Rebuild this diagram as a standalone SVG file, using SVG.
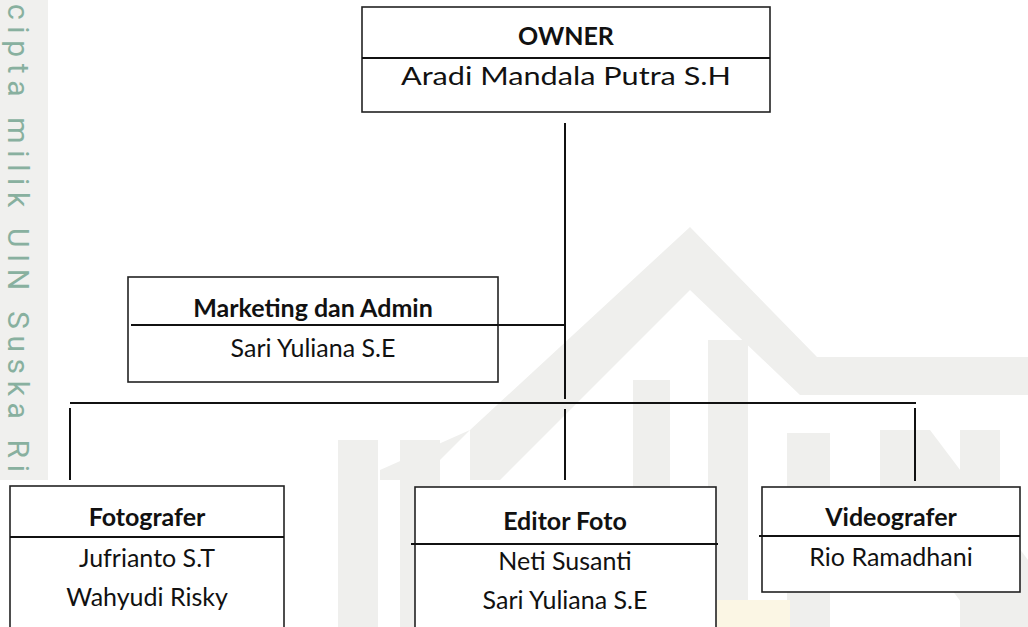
<svg xmlns="http://www.w3.org/2000/svg" width="1028" height="627" viewBox="0 0 1028 627">
  <style>
    .box { fill: #ffffff; stroke: #222222; stroke-width: 1.6; }
    .div { stroke: #111111; stroke-width: 2; }
    .conn { stroke: #111111; stroke-width: 2; fill: none; }
    .t { font-family: Lato, "Liberation Sans", sans-serif; font-size: 25px; fill: #111111; text-anchor: middle; }
    .b { font-weight: bold; }
    .wm { fill: #efefed; }
  </style>
  <rect x="0" y="0" width="1028" height="627" fill="#ffffff"/>
  <!-- faint background watermark logo -->
  <g id="watermark-logo">
    <polygon class="wm" points="690,227 817,357 1028,357 1028,395 800,395 690,290 560,420 500,480 470,480 470,430"/>
    <polygon class="wm" points="470,430 420,480 380,480 380,470"/>
    <rect class="wm" x="338" y="440" width="40" height="187"/>
    <rect class="wm" x="400" y="440" width="40" height="187"/>
    <rect class="wm" x="633" y="380" width="37" height="247"/>
    <rect class="wm" x="708" y="340" width="40" height="287"/>
    <rect class="wm" x="787" y="433" width="43" height="194"/>
    <polygon class="wm" points="880,430 930,430 1028,560 1028,627 980,627 880,495"/>
    <rect class="wm" x="960" y="430" width="40" height="197"/>
    <rect x="700" y="600" width="90" height="27" fill="#fbf6e4"/>
  </g>
  <!-- left margin watermark strip -->
  <g id="watermark-strip">
    <rect x="0" y="0" width="48" height="480" fill="#f0f0ee"/>
    <text transform="translate(8,4) rotate(90)" x="0" y="0" font-family="Roboto, 'Liberation Sans', sans-serif" font-size="30" fill="#88b09f" textLength="468" lengthAdjust="spacing">cipta milik UIN Suska Ri</text>
  </g>
  <g id="connectors">
    <line class="conn" x1="565" y1="123" x2="565" y2="399"/>
    <line class="conn" x1="498" y1="325" x2="565" y2="325"/>
    <line class="conn" x1="70" y1="403" x2="916" y2="403"/>
    <line class="conn" x1="70" y1="408" x2="70" y2="480"/>
    <line class="conn" x1="565" y1="409" x2="565" y2="480"/>
    <line class="conn" x1="915" y1="408" x2="915" y2="481"/>
  </g>
  <g id="owner">
    <rect class="box" x="362" y="7" width="408" height="105"/>
    <line class="div" x1="362" y1="58" x2="770" y2="58"/>
    <text class="t b" x="566" y="45">OWNER</text>
    <text class="t" x="566" y="85" font-size="28" textLength="330" lengthAdjust="spacingAndGlyphs">Aradi Mandala Putra S.H</text>
  </g>
  <g id="marketing">
    <rect class="box" x="128" y="277" width="370" height="105"/>
    <line class="div" x1="131" y1="325" x2="498" y2="325"/>
    <text class="t b" x="313" y="317" font-size="27">Marketing dan Admin</text>
    <text class="t" x="313" y="357" font-size="26">Sari Yuliana S.E</text>
  </g>
  <g id="fotografer">
    <rect class="box" x="10" y="486" width="274" height="160"/>
    <line class="div" x1="10" y1="537" x2="284" y2="537"/>
    <text class="t b" x="147" y="526">Fotografer</text>
    <text class="t" x="147" y="567">Jufrianto S.T</text>
    <text class="t" x="147" y="606">Wahyudi Risky</text>
  </g>
  <g id="editor">
    <rect class="box" x="415" y="487" width="301" height="160"/>
    <line class="div" x1="411" y1="544" x2="718" y2="544"/>
    <text class="t b" x="565" y="530">Editor Foto</text>
    <text class="t" x="565" y="570">Neti Susanti</text>
    <text class="t" x="565" y="609">Sari Yuliana S.E</text>
  </g>
  <g id="videografer">
    <rect class="box" x="762" y="487" width="258" height="105"/>
    <line class="div" x1="759" y1="536" x2="1020" y2="536"/>
    <text class="t b" x="891" y="526">Videografer</text>
    <text class="t" x="891" y="566">Rio Ramadhani</text>
  </g>
</svg>
